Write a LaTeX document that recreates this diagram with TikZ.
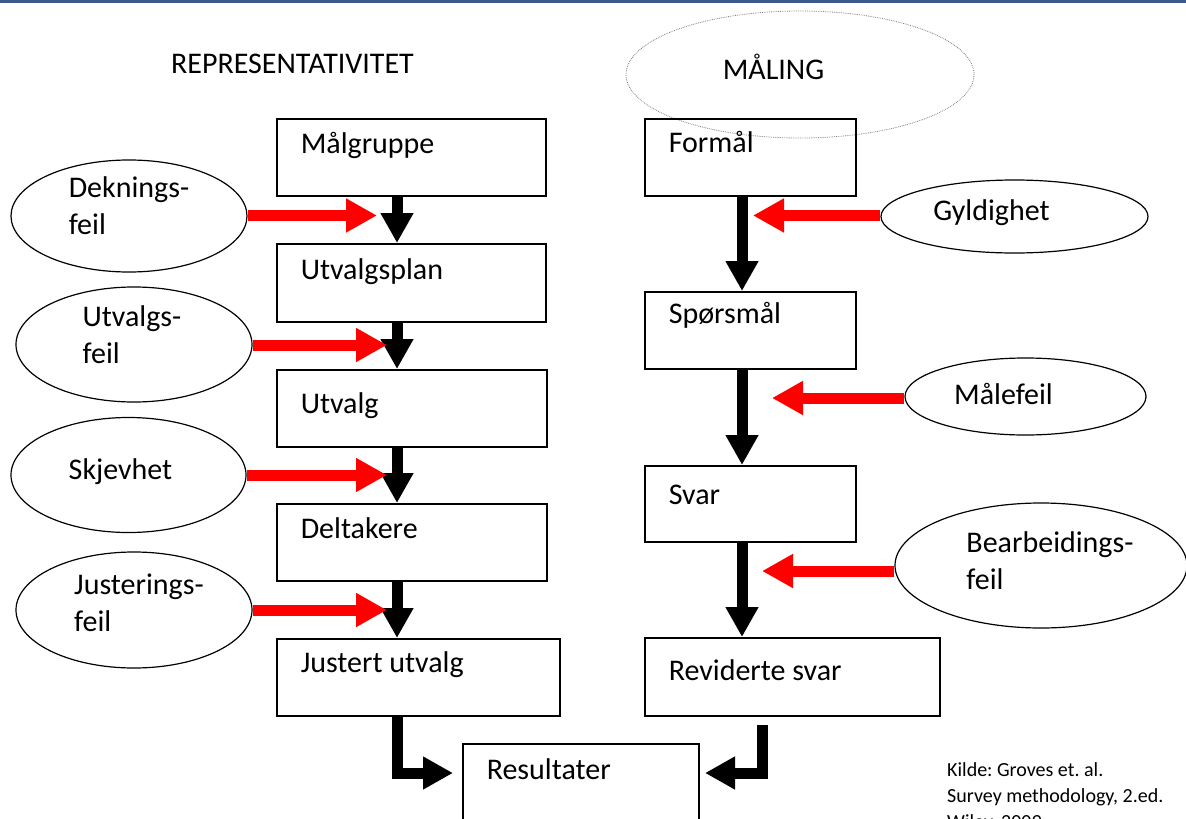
\documentclass[tikz,border=0pt]{standalone}
\usepackage{fontspec}
\setmainfont{Carlito}
\usetikzlibrary{arrows.meta,shapes.geometric}
\definecolor{topbar}{RGB}{59,89,140}

\tikzset{
  box/.style={draw, line width=1.5pt, anchor=north west, inner xsep=24pt,
              inner ysep=0pt, align=flush left, font=\fontsize{30}{37}\selectfont},
  errsrc/.style={draw, ellipse, line width=1.2pt, inner sep=0pt},
  eltext/.style={align=flush left, font=\fontsize{30}{37}\selectfont},
  flow/.style={line width=11pt, -{Triangle[width=31pt,length=30pt]}},
  err/.style={red, line width=11pt, -{Triangle[width=32pt,length=31pt]}},
}

\begin{document}
\begin{tikzpicture}[x=1pt,y=-1pt]
  \useasboundingbox (0,0) rectangle (1186,819);
  \fill[topbar] (0,0) rectangle (1186,2.5);

  % headings
  \node[anchor=base, font=\fontsize{30}{36}\selectfont] (rep) at (292.5,73) {REPRESENTATIVITET};
  \node[draw=gray, densely dotted, ellipse, line width=0.8pt, minimum width=348pt,
        minimum height=127pt,
        label={[anchor=base, xshift=-26.5pt, yshift=7.5pt, font=\fontsize{30}{36}\selectfont]center:MÅLING}]
        (maling) at (800,74.5) {};

  % left column
  \node[box, text width=221pt, text height=35pt, text depth=42pt] (malgr) at (276,118) {Målgruppe};
  \node[box, text width=221pt, text height=36pt, text depth=42pt] (utp)   at (276,243) {Utvalgsplan};
  \node[box, text width=222pt, text height=44pt, text depth=33pt] (utv)   at (276,369) {Utvalg};
  \node[box, text width=222pt, text height=35pt, text depth=42pt] (del)   at (276,503) {Deltakere};
  \node[box, text width=235pt, text height=34pt, text depth=43pt] (jus)   at (276,638) {Justert utvalg};

  % right column
  \node[box, text width=163pt, text height=34pt, text depth=43pt] (form)  at (644,118) {Formål};
  \node[box, text width=163pt, text height=32pt, text depth=45pt] (spm)   at (644,291) {Spørsmål};
  \node[box, text width=163pt, text height=39pt, text depth=37pt] (svar)  at (644,465) {Svar};
  \node[box, text width=247pt, text height=43pt, text depth=35pt] (rev)   at (644,637) {Reviderte svar};

  \node[box, text width=188pt, text height=36pt, text depth=54pt] (res)   at (462,743) {Resultater};

  % error sources
  \node[errsrc, minimum width=236pt, minimum height=112pt,
        label={[eltext, yshift=10pt]center:Deknings-\\feil}] (dek) at (129,216) {};
  \node[errsrc, minimum width=236pt, minimum height=115pt,
        label={[eltext, yshift=9.5pt, xshift=-2pt]center:Utvalgs-\\feil}] (uts) at (134,344.5) {};
  \node[errsrc, minimum width=235pt, minimum height=115pt,
        label={[eltext, yshift=3.5pt, xshift=-8pt]center:Skjevhet}] (skj) at (128.5,475) {};
  \node[errsrc, minimum width=236pt, minimum height=116pt,
        label={[eltext, yshift=7pt, xshift=5pt]center:Justerings-\\feil}] (jst) at (134,610) {};
  \node[errsrc, minimum width=267pt, minimum height=73pt,
        label={[eltext, yshift=4pt, xshift=-23pt]center:Gyldighet}] (gyl) at (1014.5,216.5) {};
  \node[errsrc, minimum width=241pt, minimum height=77pt,
        label={[eltext, yshift=3pt, xshift=-22pt]center:Målefeil}] (mlf) at (1025.5,396.5) {};
  \node[errsrc, minimum width=292pt, minimum height=125pt,
        label={[eltext, yshift=4.5pt, xshift=9pt]center:Bearbeidings-\\feil}] (bea) at (1041,565.5) {};

  \node[anchor=north west, align=flush left, inner sep=0pt, font=\fontsize{20}{26}\selectfont\frenchspacing]
        (kilde) at (947,762) {Kilde: Groves et. al.\\Survey methodology, 2.ed.\\Wiley, 2009};

  % flow arrows
  \coordinate (lx) at (397,0);
  \coordinate (rx) at (742,0);
  \draw[flow] (lx |- malgr.south) -- (lx |- utp.north);
  \draw[flow] (lx |- utp.south) -- (lx |- utv.north);
  \draw[flow] (lx |- utv.south) -- (lx |- del.north);
  \draw[flow] (lx |- del.south) -- (lx |- jus.north);
  \draw[flow] (rx |- form.south) -- (rx |- spm.north);
  \draw[flow] (rx |- spm.south) -- (rx |- svar.north);
  \draw[flow] (rx |- svar.south) -- (rx |- rev.north);

  \coordinate (r1) at (453,773);
  \coordinate (r2s) at (762,725);
  \coordinate (r2) at (705,773);
  \draw[flow] (lx |- jus.south) |- (r1);
  \draw[flow] (r2s) |- (r2);

  % error arrows
  \coordinate (e1) at (377,215.5);
  \coordinate (e2) at (387,345);
  \coordinate (e3) at (387,475);
  \coordinate (e4) at (387,610);
  \coordinate (e5) at (753,215.5);
  \coordinate (e6) at (772,398);
  \coordinate (e7) at (762,571);
  \draw[err] (dek.east |- e1) -- (e1);
  \draw[err] (uts.east |- e2) -- (e2);
  \draw[err] (skj.east |- e3) -- (e3);
  \draw[err] (jst.east |- e4) -- (e4);
  \draw[err] (gyl.west |- e5) -- (e5);
  \draw[err] (mlf.west |- e6) -- (e6);
  \draw[err] (bea.west |- e7) -- (e7);
\end{tikzpicture}
\end{document}
